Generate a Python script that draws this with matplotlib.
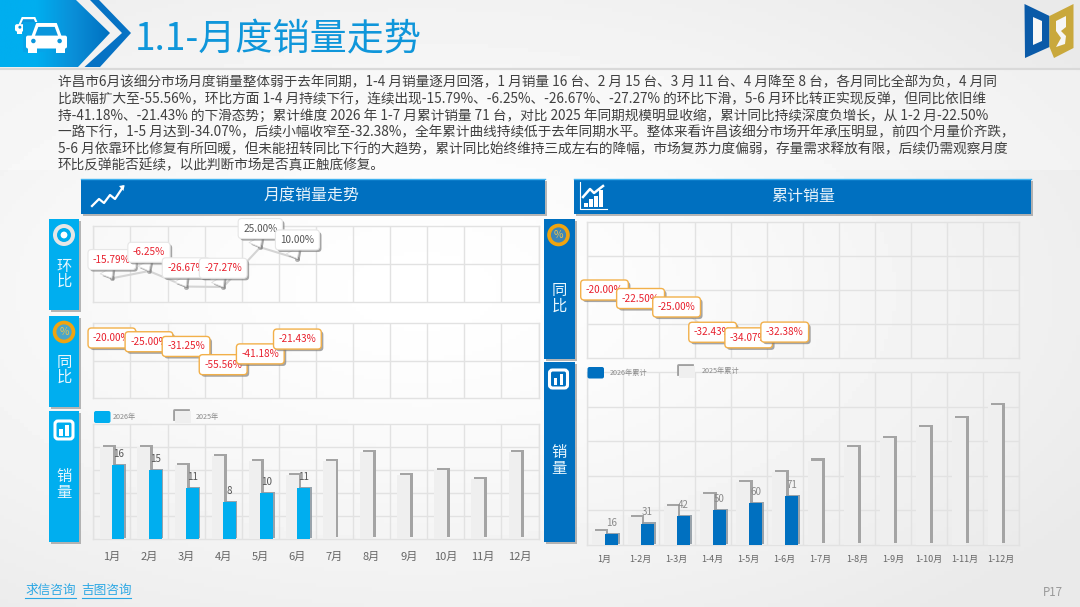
import numpy as np
import matplotlib
matplotlib.use("Agg")
import matplotlib.pyplot as plt
from matplotlib.patches import Polygon, Rectangle, FancyBboxPatch, Circle
from matplotlib.colors import LinearSegmentedColormap
import matplotlib.patheffects as pe

plt.rcParams['font.family'] = ['Noto Sans CJK SC', 'DejaVu Sans']

months = ['1月','2月','3月','4月','5月','6月','7月','8月','9月','10月','11月','12月']
cum_months = ['1月','1-2月','1-3月','1-4月','1-5月','1-6月','1-7月','1-8月','1-9月','1-10月','1-11月','1-12月']
mom = [-15.79, -6.25, -26.67, -27.27, 25.00, 10.00]
yoy = [-20.00, -25.00, -31.25, -55.56, -41.18, -21.43]
sales_2026 = [16, 15, 11, 8, 10, 11]
sales_2025 = [20, 20, 16, 18, 17, 14, 17, 19, 14, 15, 13, 19]
cum_yoy = [-20.00, -22.50, -25.00, -32.43, -34.07, -32.38]
cum_2026 = [16, 31, 42, 50, 60, 71]
cum_2025 = [20, 40, 56, 74, 91, 105, 122, 141, 155, 170, 183, 202]

body_lines = [
    '许昌市6月该细分市场月度销量整体弱于去年同期，1-4 月销量逐月回落，1 月销量 16 台、2 月 15 台、3 月 11 台、4 月降至 8 台，各月同比全部为负，4 月同',
    '比跌幅扩大至-55.56%，环比方面 1-4 月持续下行，连续出现-15.79%、-6.25%、-26.67%、-27.27% 的环比下滑，5-6 月环比转正实现反弹，但同比依旧维',
    '持-41.18%、-21.43% 的下滑态势；累计维度 2026 年 1-7 月累计销量 71 台，对比 2025 年同期规模明显收缩，累计同比持续深度负增长，从 1-2 月-22.50%',
    '一路下行，1-5 月达到-34.07%，后续小幅收窄至-32.38%，全年累计曲线持续低于去年同期水平。整体来看许昌该细分市场开年承压明显，前四个月量价齐跌，',
    '5-6 月依靠环比修复有所回暖，但未能扭转同比下行的大趋势，累计同比始终维持三成左右的降幅，市场复苏力度偏弱，存量需求释放有限，后续仍需观察月度',
    '环比反弹能否延续，以此判断市场是否真正触底修复。',
]

W, H = 1080, 607
BLUE, CYAN, GREY = '#0070c0', '#00aeef', '#efefef'
GRID = '#e2e2e2'
fig = plt.figure(figsize=(W/100, H/100), dpi=100)

# full-figure decoration layer, in pixel coordinates
bg = fig.add_axes([0, 0, 1, 1], zorder=0)
bg.set_xlim(0, W); bg.set_ylim(H, 0); bg.axis('off')
yy, xx = np.mgrid[0:H:4, 0:W:4]
r = np.sqrt(((xx-420)/800.)**2 + ((yy-290)/420.)**2)
bg.imshow(1-0.085*np.clip(r, 0, 1)**1.3, cmap='gray', vmin=0, vmax=1, extent=[0, W, H, 0], aspect='auto', zorder=0)
bg.set_xlim(0, W); bg.set_ylim(H, 0)
shadow = [pe.SimplePatchShadow(offset=(1.6, -1.6), shadow_rgbFace='#888888', alpha=0.6), pe.Normal()]

# overlay above the charts, for the legends
top = fig.add_axes([0, 0, 1, 1], zorder=4)
top.set_xlim(0, W); top.set_ylim(H, 0); top.axis('off'); top.patch.set_alpha(0)

# top banner
bg.plot([0, W], [68.5, 68.5], color='#d9d9d9', lw=1.6, zorder=1)
bg.add_patch(Rectangle((0, 70), W, 100, fc='white', alpha=0.3, ec='none', zorder=1))
grad = np.linspace(0, 1, 256).reshape(1, -1)
bcm = LinearSegmentedColormap.from_list('b', [CYAN, CYAN, '#0a8fd8', BLUE])
main = Polygon([(0, 0), (76, 0), (110, 33), (78, 67), (0, 67)], closed=True, fc='none', ec='none', zorder=2)
bg.add_patch(main)
im = bg.imshow(grad, cmap=bcm, extent=[0, 110, 67, 0], aspect='auto', zorder=2)
im.set_clip_path(main)
bg.add_patch(Polygon([(90, 0), (99, 0), (131, 33), (100, 67), (84.5, 67), (122, 33)], closed=True, fc='#0672c4', ec='none', zorder=2))
bg.set_xlim(0, W); bg.set_ylim(H, 0)

# car icons
def car(x, y, w, h, z=3):
    bg.add_patch(FancyBboxPatch((x, y+0.42*h), w, 0.43*h, boxstyle='round,pad=0,rounding_size=2', fc='white', ec='none', zorder=z))
    bg.add_patch(Polygon([(x+0.13*w, y+0.45*h), (x+0.25*w, y), (x+0.75*w, y), (x+0.87*w, y+0.45*h)], closed=True, fc='white', ec='none', zorder=z))
    bg.add_patch(Polygon([(x+0.22*w, y+0.42*h), (x+0.3*w, y+0.13*h), (x+0.7*w, y+0.13*h), (x+0.78*w, y+0.42*h)], closed=True, fc='#0a96dc', ec='none', zorder=z))
    bg.add_patch(Rectangle((x+0.06*w, y+0.82*h), 0.2*w, 0.18*h, fc='white', ec='none', zorder=z))
    bg.add_patch(Rectangle((x+0.74*w, y+0.82*h), 0.2*w, 0.18*h, fc='white', ec='none', zorder=z))
    for cx in (0.18, 0.82):
        bg.add_patch(Circle((x+cx*w, y+0.6*h), 0.055*w, fc='#0a96dc', ec='none', zorder=z))
car(15, 17, 27, 17)
bg.add_patch(Rectangle((23, 22), 23, 30, fc='#06a4e8', ec='none', zorder=3))
car(26, 23, 41, 30, z=4)

bg.text(135, 39.5, '1.1-月度销量走势', fontsize=26.7, color='#0f96da', ha='left', va='center', zorder=3)

for i, line in enumerate(body_lines):
    bg.text(57.5, 82.5+16.6*i, line, fontsize=9.85, color='#404040', ha='left', va='center', zorder=3)

# logo
bg.add_patch(Polygon([(1024.5, 4), (1049.5, 16), (1049.5, 47), (1025, 58)], closed=True, fc='#0a5aa8', ec='none', zorder=3))
bg.add_patch(Polygon([(1033, 17), (1042, 21), (1042, 41), (1033, 45)], closed=True, fc='#f6f6f6', ec='none', zorder=3))
bg.add_patch(Polygon([(1049.5, 16), (1073.5, 4), (1073.5, 48), (1054, 58), (1049.5, 47)], closed=True, fc='#c9a83c', ec='none', zorder=3))
bg.add_patch(Polygon([(1056, 21), (1066, 16), (1066, 27), (1061, 31), (1066, 36), (1065, 44), (1056, 47), (1061, 38), (1056, 31)], closed=True, fc='#f6f6f6', ec='none', zorder=3))

# section headers
def header(x0, x1, title, cx):
    p = Rectangle((x0, 179), x1-x0, 35, fc=BLUE, ec='none', zorder=2)
    p.set_path_effects(shadow)
    bg.add_patch(p)
    bg.plot([x0, x1], [179, 179], color='#3fb2f0', lw=1, zorder=3)
    bg.text(cx, 196, title, fontsize=11.5, color='#e8f3fb', ha='center', va='center', zorder=3)
header(81, 544.5, '月度销量走势', 312)
header(574, 1031, '累计销量', 803)

# header icons
bg.plot([92, 99, 104, 110, 115, 123], [206, 199, 203, 195, 199, 187], color='white', lw=1.6, zorder=3)
bg.add_patch(Polygon([(119, 186), (124.5, 185), (123.5, 191)], closed=True, fc='white', ec='none', zorder=3))
bg.plot([579.5, 579.5, 607], [182, 209, 209], color='white', lw=0.8, zorder=3)
for bx, bt in zip([584, 589, 594, 599], [203, 199, 196, 190]):
    bg.add_patch(Rectangle((bx, bt), 3.5, 207-bt, fc='white', ec='none', zorder=3))
bg.plot([583, 590, 594, 603], [197, 189, 193, 186], color='white', lw=1.8, zorder=3)

# side tabs
def tab(x0, x1, y0, y1, color, label, ys):
    p = Rectangle((x0, y0), x1-x0, y1-y0, fc=color, ec='none', zorder=2)
    p.set_path_effects(shadow)
    bg.add_patch(p)
    cx = (x0+x1)/2
    for ch, y in zip(label, ys):
        bg.text(cx, y, ch, fontsize=11, color='#e8f6fd', ha='center', va='center', zorder=3)
tab(49, 78.5, 219, 310, CYAN, '环比', [266, 281])
tab(49, 78.5, 316, 407, CYAN, '同比', [362, 377])
tab(49, 78.5, 411, 542, CYAN, '销量', [477, 493])
tab(544, 574.5, 219, 359, BLUE, '同比', [290, 306])
tab(544, 574.5, 362, 542, BLUE, '销量', [453, 468])

def ring_icon(cx, cy):
    bg.add_patch(Circle((cx, cy), 11, fc='#e6e6e6', ec='none', zorder=3))
    bg.add_patch(Circle((cx, cy), 7, fc=CYAN, ec='none', zorder=3))
    bg.add_patch(Circle((cx, cy), 3.4, fc='white', ec='none', zorder=3))
def pct_icon(cx, cy, inner):
    bg.add_patch(Circle((cx, cy), 11.3, fc='#f0a40f', ec='none', zorder=3))
    bg.add_patch(Circle((cx, cy), 7.6, fc=inner, ec='none', zorder=3))
    bg.text(cx, cy, '%', fontsize=7.5, color='#e9c24f', ha='center', va='center', zorder=4)
def bar_icon(cx, cy, color):
    bg.add_patch(FancyBboxPatch((cx-9, cy-9), 18, 18, boxstyle='round,pad=0,rounding_size=3', fc=color, ec='white', lw=2.2, zorder=3))
    bg.add_patch(Rectangle((cx-5, cy-1), 3.8, 6.5, fc='white', ec='none', zorder=4))
    bg.add_patch(Rectangle((cx+1, cy-5.5), 3.8, 11, fc='white', ec='none', zorder=4))
ring_icon(64, 235)
pct_icon(64, 332, '#4aa6c9')
bar_icon(64, 430, CYAN)
pct_icon(558.5, 235, '#3c86b8')
bar_icon(558.5, 379, BLUE)

# legends
def legend(x0, y0, h, color, text, tx):
    sw = 16.5
    if color == GREY:
        top.plot([x0, x0, x0+sw-3], [y0+h-3, y0, y0], color='#a0a0a0', lw=2, zorder=3)
        top.add_patch(Rectangle((x0+1, y0+1), sw-1, h, fc=GREY, ec='none', zorder=3))
    else:
        top.add_patch(FancyBboxPatch((x0, y0), sw, h, boxstyle='round,pad=0,rounding_size=2', fc=color, ec='none', zorder=3))
    top.text(tx, y0+h/2+0.5, text, fontsize=5.2, color='#8a8a8a', ha='left', va='center', zorder=3)
legend(94, 411, 12, CYAN, '2026年', 113)
legend(174, 410, 12, GREY, '2025年', 196)
legend(587.5, 367, 11.5, BLUE, '2026年累计', 609.5)
legend(678, 365, 12, GREY, '2025年累计', 702)

# footer
for label, x0, x1 in [('求信咨询', 25, 76), ('吉图咨询', 81.5, 131)]:
    bg.text((x0+x1)/2, 590.5, label, fontsize=9.1, color='#2aa7e4', ha='center', va='center', zorder=3)
    bg.plot([x0, x1], [597.5, 597.5], color='#2aa7e4', lw=0.8, zorder=3)
bg.text(1052.5, 592, 'P17', fontsize=8.3, color='#9a9a9a', ha='center', va='center', zorder=3)

# chart axes
def chart_ax(x0, x1, y0, y1, ylim, yticks):
    ax = fig.add_axes([x0/W, 1-y1/H, (x1-x0)/W, (y1-y0)/H], zorder=2)
    ax.patch.set_alpha(0)
    ax.set_xlim(-0.5, 11.5); ax.set_ylim(*ylim)
    ax.set_xticks(np.arange(-0.5, 12.5, 1)); ax.set_yticks(yticks)
    ax.grid(True, color=GRID, lw=1)
    ax.set_axisbelow(True)
    ax.tick_params(length=0, labelbottom=False, labelleft=False)
    for s in ax.spines.values():
        s.set_color(GRID); s.set_linewidth(1)
    return ax

box_shadow = [pe.SimplePatchShadow(offset=(1.5, -1.5), shadow_rgbFace='#777777', alpha=0.65), pe.Normal()]

def boxed(ax, values, edge):
    for i, v in enumerate(values):
        a = ax.annotate(f'{v:.2f}%', (i, v), xytext=(0, 0), textcoords='offset points', ha='center', va='center',
                        fontsize=7.2, color='#e8212e', zorder=5,
                        bbox=dict(boxstyle='round,pad=0.5,rounding_size=0.35', fc='white', ec=edge, lw=1))
        a.get_bbox_patch().set_path_effects(box_shadow)

def cats(ax, labels, size, pad):
    ax2 = ax.secondary_xaxis('bottom')
    ax2.set_xticks(range(12), labels)
    ax2.tick_params(length=0, pad=pad, labelsize=size, labelcolor='#666666')
    ax2.spines['bottom'].set_visible(False)

def bars(ax, old, new, width, color, lab_color, pad):
    sh = [pe.SimplePatchShadow(offset=(2.0, 1.5), shadow_rgbFace='#a4a4a4', alpha=1), pe.Normal()]
    b0 = ax.bar(np.arange(len(old)), old, width=width, align='edge', color=GREY, zorder=3)
    for p in b0:
        p.set_x(p.get_x()-width+0.03); p.set_path_effects(sh)
    sh2 = [pe.SimplePatchShadow(offset=(1.2, 0.9), shadow_rgbFace='#8f9aa3', alpha=0.9), pe.Normal()]
    b1 = ax.bar(np.arange(len(new)), new, width=width, align='edge', color=color, zorder=4)
    for p in b1:
        p.set_path_effects(sh2)
    ax.bar_label(b1, padding=pad, fontsize=7, color=lab_color, zorder=6)

# monthly chain ratio
ax1 = chart_ax(93.3, 538.6, 226, 302, (-47, 53), [3])
line, = ax1.plot(range(len(mom)), mom, color='#d4d4d4', lw=1.5, marker='o', ms=2.6, mfc='#b4b4b4', mec='#b4b4b4', zorder=3)
for i, v in enumerate(mom):
    a = ax1.annotate(f'{v:.2f}%', (i, v), xytext=(0, 13.5), textcoords='offset points', ha='center', va='center',
                     fontsize=7.2, color='#e8212e' if v < 0 else '#555555', zorder=5,
                     bbox=dict(boxstyle='round,pad=0.5,rounding_size=0.35', fc='white', ec='#e6e6e6', lw=0.8),
                     arrowprops=dict(arrowstyle='wedge,tail_width=1.1,shrink_factor=0.5', fc='white', ec='#dddddd', lw=0.6,
                                     mutation_scale=10, relpos=(0.25, 0.2), shrinkA=0, shrinkB=0))
    a.get_bbox_patch().set_path_effects(box_shadow)
    a.arrow_patch.set_path_effects(box_shadow)

# monthly year-on-year
ax2 = chart_ax(93.3, 538.6, 323, 398, (-100, 0), [-50])
ax2.plot(range(len(yoy)), yoy, color='#dddddd', lw=1, zorder=3)
boxed(ax2, yoy, '#f2b04a')

# monthly sales
ax3 = chart_ax(93.3, 538.6, 424, 539, (0, 25), [5, 10, 15, 20])
bars(ax3, sales_2025, sales_2026, 0.34, CYAN, '#555555', 4.6)
cats(ax3, months, 8, 9)

# cumulative year-on-year
ax4 = chart_ax(586.5, 1019, 222, 358, (-40, 0), [-30, -20, -10])
ax4.plot(range(len(cum_yoy)), cum_yoy, color='#dddddd', lw=1, zorder=3)
boxed(ax4, cum_yoy, '#f2b04a')

# cumulative sales
ax5 = chart_ax(586.5, 1019, 372, 545, (0, 250), [50, 100, 150, 200])
bars(ax5, cum_2025, cum_2026, 0.38, BLUE, '#8a8a8a', 4.4)
cats(ax5, cum_months, 6.5, 7)

fig.savefig('out.png', dpi=100)
